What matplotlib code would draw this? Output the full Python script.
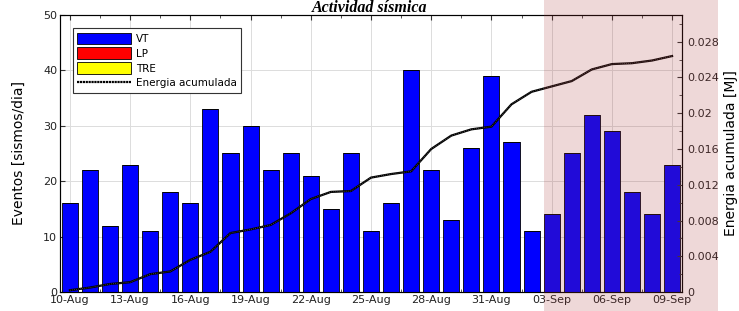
import matplotlib
matplotlib.use("Agg")
import matplotlib.pyplot as plt
import numpy as np
from matplotlib.patches import Patch, Rectangle
from matplotlib.lines import Line2D

# daily counts 10-Aug .. 09-Sep
dias = ['10-Aug', '11-Aug', '12-Aug', '13-Aug', '14-Aug', '15-Aug', '16-Aug', '17-Aug',
        '18-Aug', '19-Aug', '20-Aug', '21-Aug', '22-Aug', '23-Aug', '24-Aug', '25-Aug',
        '26-Aug', '27-Aug', '28-Aug', '29-Aug', '30-Aug', '31-Aug', '01-Sep', '02-Sep',
        '03-Sep', '04-Sep', '05-Sep', '06-Sep', '07-Sep', '08-Sep', '09-Sep']
vt = [16, 22, 12, 23, 11, 18, 16, 33, 25, 30, 22, 25, 21, 15, 25, 11,
      16, 40, 22, 13, 26, 39, 27, 11, 14, 25, 32, 29, 18, 14, 23]
lp = [0] * 31
tre = [0] * 31

# cumulative energy [MJ], read at each day
energia = [0.0002, 0.0005, 0.0009, 0.0011, 0.0020, 0.0023, 0.0036, 0.0045,
           0.0066, 0.0070, 0.0075, 0.0088, 0.0104, 0.0112, 0.0113, 0.0128,
           0.0132, 0.0135, 0.0160, 0.0175, 0.0182, 0.0185, 0.0210, 0.0224,
           0.0230, 0.0236, 0.0249, 0.0255, 0.0256, 0.0259, 0.0264]

x = np.arange(len(dias))

fig = plt.figure(figsize=(7.39, 3.11), dpi=100)
ax = fig.add_axes([0.081, 0.061, 0.842, 0.891])

ax.bar(x, vt, width=0.8, color='#0000ff', edgecolor='black', linewidth=0.6, zorder=3)
ax.bar(x, lp, width=0.8, bottom=vt, color='red', edgecolor='black', linewidth=0.6, zorder=3)

ax.set_xlim(-0.5, 30.5)
ax.set_ylim(0, 50)
ax.set_yticks([0, 10, 20, 30, 40, 50])
ax.set_xticks(x[::3])
ax.set_xticklabels(dias[::3])
ax.set_xticks(np.arange(0, 31, 1.5), minor=True)
ax.grid(True, which='major', color='#dcdcdc', linewidth=0.7, zorder=0)
ax.tick_params(direction='in', top=True, which='both', labelsize=8, colors='#333333',
               labelcolor='#222222', pad=2)
ax.tick_params(which='minor', length=2)
ax.set_ylabel('Eventos [sismos/dia]', fontsize=10, labelpad=12)
for s in ax.spines.values():
    s.set_color('#333333')

ax2 = ax.twinx()
ax2.plot(x, energia, color='black', lw=1.6, zorder=4)
ax2.plot(x, energia, color='#555555', lw=0.6, ls=(0, (1, 1.5)), zorder=5)
ax2.set_ylim(0, 0.031)
ax2.set_yticks(np.arange(0, 0.0281, 0.004))
ax2.set_yticklabels(['0', '0.004', '0.008', '0.012', '0.016', '0.02', '0.024', '0.028'])
ax2.set_yticks(np.arange(0, 0.031, 0.002), minor=True)
ax2.tick_params(direction='in', which='both', labelsize=8, colors='#333333',
                labelcolor='#222222', pad=4)
ax2.tick_params(which='minor', length=2)
ax2.set_ylabel('Energia acumulada [MJ]', fontsize=10, labelpad=3)

handles = [Patch(facecolor='#0000ff', edgecolor='black', lw=0.6, label='VT'),
           Patch(facecolor='red', edgecolor='black', lw=0.6, label='LP'),
           Patch(facecolor='yellow', edgecolor='black', lw=0.6, label='TRE'),
           Line2D([], [], color='black', lw=1.6, ls=(0, (1, 0.3)), label='Energia acumulada')]
leg = ax2.legend(handles=handles, loc='upper left', bbox_to_anchor=(0.012, 0.97),
                 fontsize=7.5, handlelength=5.2, handleheight=1.35, labelspacing=0.3,
                 handletextpad=0.5, borderpad=0.4, fancybox=False, framealpha=1,
                 edgecolor='#333333')
leg.get_frame().set_linewidth(0.8)

fig.text(0.5, 1.0, 'Actividad sísmica', ha='center', va='top', fontsize=11.5,
         style='italic', weight='bold', family='Liberation Serif')

# shaded period
fig.patches.append(Rectangle((0.736, 0.0), 0.236, 1.0, transform=fig.transFigure,
                             facecolor='#aa3c3c', alpha=0.2, edgecolor='none', zorder=10))

fig.savefig('out.png', dpi=100)
